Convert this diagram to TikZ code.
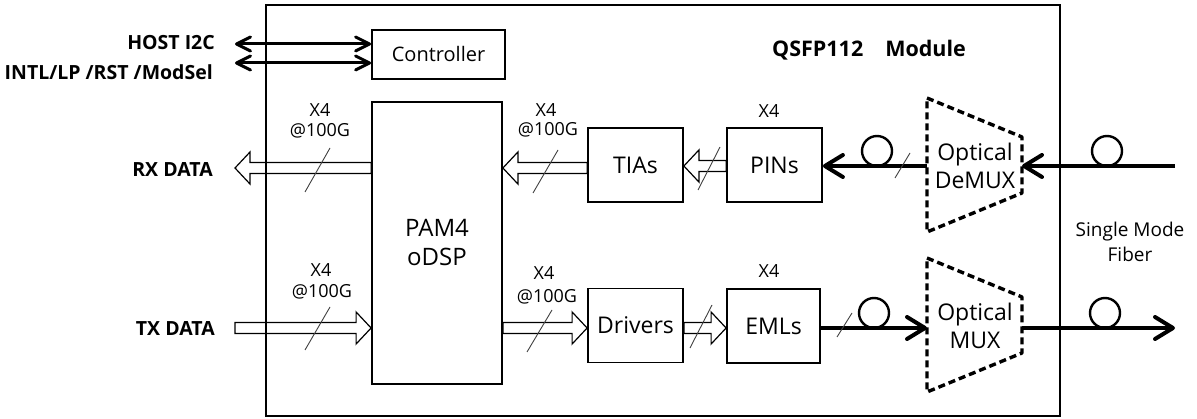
\documentclass[tikz,border=0pt]{standalone}
\usepackage{fontspec}
\setmainfont{Open Sans}
\usetikzlibrary{arrows.meta,calc}
\tikzset{
  frame/.style={draw, line width=2.6pt},
  blk/.style={draw, line width=1.8pt, minimum width=95pt, minimum height=74pt, inner sep=0pt, font=\fontsize{23}{28}\selectfont},
  lbl/.style={font=\fontsize{18}{21}\selectfont, inner sep=0pt},
  side/.style={font=\bfseries\fontsize{19.5}{24}\selectfont, inner sep=0pt, anchor=east},
  hol/.style={draw, line width=1.2pt, line join=miter},
  slash/.style={draw, line width=0.9pt, black!75},
  fib/.style={draw, line width=4pt, -{Straight Barb[length=18pt,width=22pt,round]}},
  ctl/.style={draw, line width=3pt, {Straight Barb[length=14pt,width=14pt,round]}-{Straight Barb[length=14pt,width=14pt,round]}},
  trap/.style={draw, line width=3.4pt, dash pattern=on 7pt off 4pt, line join=round},
  loopc/.style={draw, line width=2.4pt},
  optl/.style={font=\fontsize{23}{28}\selectfont, inner sep=0pt, align=center},
}
\newcommand\harrow[3]{\draw[hol] let \p1=#1, \p2=#2, \n1={#3*15} in
  (\x1,{\y1+5.5pt}) -- ({\x2-\n1*1pt},{\y1+5.5pt}) -- ({\x2-\n1*1pt},{\y1+16pt}) -- (\x2,\y1)
  -- ({\x2-\n1*1pt},{\y1-16pt}) -- ({\x2-\n1*1pt},{\y1-5.5pt}) -- (\x1,{\y1-5.5pt}) -- cycle;}
\begin{document}
\begin{tikzpicture}[x=1pt,y=-1pt]
\useasboundingbox (0,0) rectangle (1197,419);
% module frame
\draw[frame] (266,5) rectangle (1060,416);
% blocks
\node[blk, minimum width=133pt, minimum height=49pt, font=\fontsize{20}{24}\selectfont] (ctrl) at (438.5,54.5) {Controller};
\node[blk, minimum width=130pt, minimum height=282pt, align=center, font=\fontsize{24}{29}\selectfont] (dsp) at (437,243) {PAM4\\oDSP};
\node[blk] (tia) at (635.5,165) {TIAs};
\node[blk] (pin) at (774.5,165) {PINs};
\node[blk] (drv) at (635.5,325.5) {Drivers};
\node[blk, minimum width=93pt] (eml) at (773.5,326) {EMLs};
% title
\node[font=\bfseries\fontsize{21.5}{26}\selectfont, inner sep=0pt] (title) at (869,50) {QSFP112\hspace{22pt}Module};
% side labels
\node[side] (host) at (215,43) {HOST I2C};
\node[side] (intl) at (213,72) {INTL/LP /RST /ModSel};
\node[side] (rxd) at (213,170) {RX DATA};
\node[side] (txd) at (215,329) {TX DATA};
\node[font=\fontsize{19}{25}\selectfont, align=center, inner sep=0pt] (smf) at (1130,242) {Single Mode\\Fiber};
% controller arrows
\coordinate (c1) at (235,44);
\coordinate (c2) at (235,63);
\draw[ctl] (c1) -- (ctrl.west |- c1);
\draw[ctl] (c2) -- (ctrl.west |- c2);
% rows
\coordinate (rxrow) at (0,168);
\coordinate (txrow) at (0,328);
\coordinate (rxtip) at (235,168);
\coordinate (txtail) at (235,328);
\harrow{(dsp.west |- rxrow)}{(rxtip)}{-1}
\harrow{(txtail)}{(dsp.west |- txrow)}{1}
\harrow{(tia.west |- rxrow)}{(dsp.east |- rxrow)}{-1}
\coordinate (tprow) at (0,166);
\harrow{(pin.west |- tprow)}{(tia.east |- tprow)}{-1}
\harrow{(dsp.east |- txrow)}{(drv.west |- txrow)}{1}
\harrow{(drv.east |- txrow)}{(eml.west |- txrow)}{1}
% slashes
\draw[slash] (305,192) -- (330,148);
\draw[slash] (305,350) -- (330,307);
\draw[slash] (533,193) -- (558,150);
\draw[slash] (527,352) -- (552,310);
\draw[slash] (698,190) -- (720,147);
\draw[slash] (690,348) -- (712,305);
% x4 labels
\node[lbl] (l1) at (320,110) {X4};
\node[lbl] (l2) at (320,131) {@100G};
\node[lbl] (l3) at (546,110) {X4};
\node[lbl] (l4) at (548,130) {@100G};
\node[lbl] (l5) at (769,111) {X4};
\node[lbl] (l6) at (321,270) {X4};
\node[lbl] (l7) at (322,292) {@100G};
\node[lbl] (l8) at (544,273) {X4};
\node[lbl] (l9) at (547,297) {@100G};
\node[lbl] (l10) at (769,271) {X4};
% trapezoids
\draw[trap] (927,98) -- (1022,137) -- (1022,193) -- (927,232) -- cycle;
\draw[trap] (927,258) -- (1022,297) -- (1022,353) -- (927,392) -- cycle;
\node[optl] (demux) at (975,166) {Optical\\DeMUX};
\node[optl] (mux) at (975,326) {Optical\\MUX};
% fibers
\coordinate (fin) at (1175,166);
\coordinate (dmR) at (1022,166);
\coordinate (dmL) at (927,166);
\coordinate (mxL) at (927,328);
\coordinate (mxR) at (1022,328);
\coordinate (fout) at (1175,328);
\draw[fib] (fin) -- (dmR);
\draw[fib] (dmL) -- (pin.east |- dmL);
\draw[fib] (eml.east |- mxL) -- (mxL);
\draw[fib] (mxR) -- (fout);
\draw[loopc] (877,151) circle (15pt);
\draw[loopc] (1107,151) circle (15pt);
\draw[loopc] (874,313) circle (15pt);
\draw[loopc] (1105,313) circle (15pt);
\draw[slash] (895,178) -- (910,153);
\draw[slash] (837,337) -- (852,313);
\end{tikzpicture}
\end{document}
